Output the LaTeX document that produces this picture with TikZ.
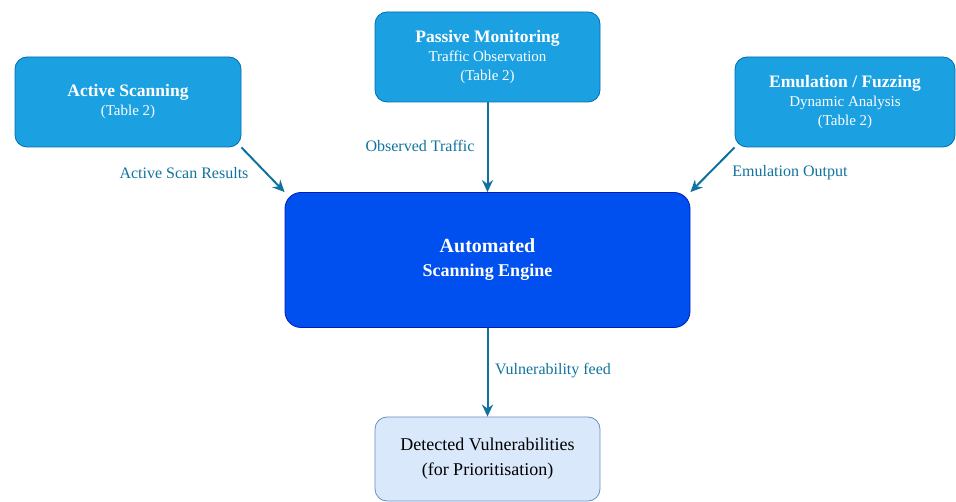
\documentclass[tikz,border=0pt]{standalone}
\usepackage{fontspec}
\setmainfont{Liberation Serif}
\usetikzlibrary{arrows.meta}

\definecolor{srcfill}{HTML}{1BA1E2}
\definecolor{srcline}{HTML}{006EAF}
\definecolor{engfill}{HTML}{0050EF}
\definecolor{engline}{HTML}{001DBC}
\definecolor{outfill}{HTML}{DAE8FC}
\definecolor{outline}{HTML}{6C8EBF}
\definecolor{flow}{HTML}{10739E}

\begin{document}
\begin{tikzpicture}[
    x=1pt, y=-1pt,
    >=Stealth,
    font=\fontsize{15}{19}\selectfont,
    arr/.style={draw=flow, line width=2pt, -{Stealth[length=12pt,width=11pt]}},
    box/.style={draw, rounded corners=12pt, align=center, line width=0.8pt},
    src/.style={box, fill=srcfill, draw=srcline, text=white, minimum width=226pt, minimum height=90pt},
    eng/.style={box, fill=engfill, draw=engline, text=white, minimum width=405pt, minimum height=135pt, rounded corners=16pt, font=\fontsize{18}{24}\selectfont},
    res/.style={box, fill=outfill, draw=outline, text=black, minimum width=225pt, minimum height=84pt, font=\fontsize{18}{25}\selectfont},
    lbl/.style={text=flow, font=\fontsize{16}{19}\selectfont}
]
\useasboundingbox (0,0) rectangle (956,502);

% =========================================================
% 1) SOURCES
% =========================================================
\node[src] (act) at (128,102)
{\textbf{\fontsize{17.5}{19}\selectfont Active Scanning}\\(Table 2)};

\node[src, minimum width=225pt] (pas) at (487.5,57)
{\textbf{\fontsize{17.5}{19}\selectfont Passive Monitoring}\\Traffic Observation\\(Table 2)};

\node[src, minimum width=220pt] (emu) at (845,102)
{\textbf{\fontsize{17.5}{19}\selectfont Emulation / Fuzzing}\\Dynamic Analysis\\(Table 2)};

% =========================================================
% 2) ENGINE AND RESULT
% =========================================================
\node[eng] (eng) at (487.5,260)
{\textbf{\fontsize{20}{24}\selectfont Automated}\\\textbf{Scanning Engine}};

\node[res] (det) at (487.5,459)
{Detected Vulnerabilities\\(for Prioritisation)};

% Flows into the engine.
\draw[arr] (act.south east) -- (eng.north west);
\draw[arr] (pas.south) -- (eng.north);
\draw[arr] (emu.south west) -- (eng.north east);

% Engine output.
\draw[arr] (eng.south) -- (det.north);

% Flow labels.
\node[lbl] (lact) at (184,173) {Active Scan Results};
\node[lbl] (lpas) at (420,146) {Observed Traffic};
\node[lbl] (lemu) at (790,173) {Emulation Output};
\node[lbl] (lvul) at (553,371) {Vulnerability feed};

\end{tikzpicture}
\end{document}
